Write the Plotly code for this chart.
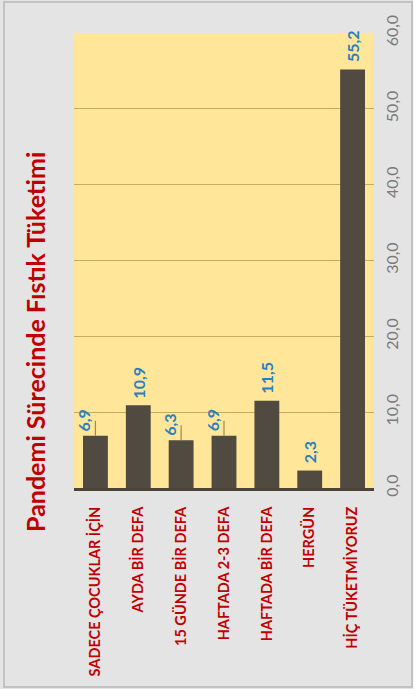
import plotly.graph_objects as go

# ---- data ----
categories = ["SADECE ÇOCUKLAR İÇİN", "AYDA BİR DEFA", "15 GÜNDE BİR DEFA",
              "HAFTADA 2-3 DEFA", "HAFTADA BİR DEFA", "HERGÜN", "HİÇ TÜKETMİYORUZ"]
values = [6.9, 10.9, 6.3, 6.9, 11.5, 2.3, 55.2]
y_ticks = [0, 10, 20, 30, 40, 50, 60]
title_text = "Pandemi Sürecinde Fıstık Tüketimi"

# ---- style ----
FONT = "Lato"
BAR = "#514a40"
PLOT_BG = "#ffe699"
GRID = "#c9ab5c"
RED = "#c00000"
BLUE = "#2a7fc0"
leader = [True, False, True, True, False, False, False]

fig = go.Figure()
fig.add_trace(go.Bar(
    x=categories, y=values, marker=dict(color=BAR, line=dict(width=0)),
    hoverinfo="skip", showlegend=False,
))

annotations = []
for c, v, ld in zip(categories, values, leader):
    txt = f"<b>{v:.1f}</b>".replace(".", ",")
    if ld:
        annotations.append(dict(
            x=c, y=v, xref="x", yref="y", text=txt, textangle=-90,
            showarrow=True, ax=0, ay=-15, arrowhead=0, arrowwidth=1.2,
            arrowcolor="#9c8a52", standoff=0, yanchor="bottom", xanchor="center",
            font=dict(family=FONT, size=16, color=BLUE),
        ))
    else:
        annotations.append(dict(
            x=c, y=v, xref="x", yref="y", text=txt, textangle=-90,
            showarrow=False, yanchor="bottom", xanchor="center", yshift=5,
            font=dict(family=FONT, size=16, color=BLUE),
        ))

annotations.append(dict(
    x=-0.13, y=0.321, xref="paper", yref="paper", text=f"<b>{title_text}</b>",
    textangle=-90, showarrow=False, xanchor="center", yanchor="middle",
    font=dict(family=FONT, size=25, color=RED),
))

shapes = [
    # outer frame
    dict(type="rect", xref="paper", yref="paper", x0=-0.2333, x1=1.1267,
         y0=-0.4374, y1=1.0681, line=dict(color="#c2c2c2", width=2),
         fillcolor="rgba(0,0,0,0)", layer="above"),
    # white strip below the frame
    dict(type="rect", xref="paper", yref="paper", x0=-0.3, x1=1.2,
         y0=-0.50, y1=-0.4418, line=dict(width=0), fillcolor="white", layer="below"),
    # white strip right of the frame
    dict(type="rect", xref="paper", yref="paper", x0=1.131, x1=1.2,
         y0=-0.50, y1=1.1, line=dict(width=0), fillcolor="white", layer="below"),
]

fig.update_layout(
    width=416, height=698,
    margin=dict(l=74, r=42, t=33, b=210),
    paper_bgcolor="#e4e4e4",
    plot_bgcolor=PLOT_BG,
    separators=",.",
    bargap=0.42,
    annotations=annotations,
    shapes=shapes,
    font=dict(family=FONT),
    xaxis=dict(
        type="category", range=[-0.5, 6.5], tickangle=-90,
        tickfont=dict(family=FONT, size=14.5, color=RED, weight="bold"),
        showgrid=False, ticks="", showline=True, linecolor="#4a4438", linewidth=3,
        ticklabelstandoff=10, fixedrange=True,
    ),
    yaxis=dict(
        side="right", range=[0, 60], tickvals=y_ticks, tickformat=".1f",
        tickangle=-90, tickfont=dict(family=FONT, size=16, color="#7a7a7a"),
        showgrid=True, gridcolor=GRID, gridwidth=1, zeroline=False,
        showline=False, ticks="", ticklabelstandoff=7, fixedrange=True,
    ),
)

fig.write_html(
    "out.html",
    config={"displayModeBar": False},
    post_script="document.body.style.margin='0';document.body.style.overflow='hidden';",
)
